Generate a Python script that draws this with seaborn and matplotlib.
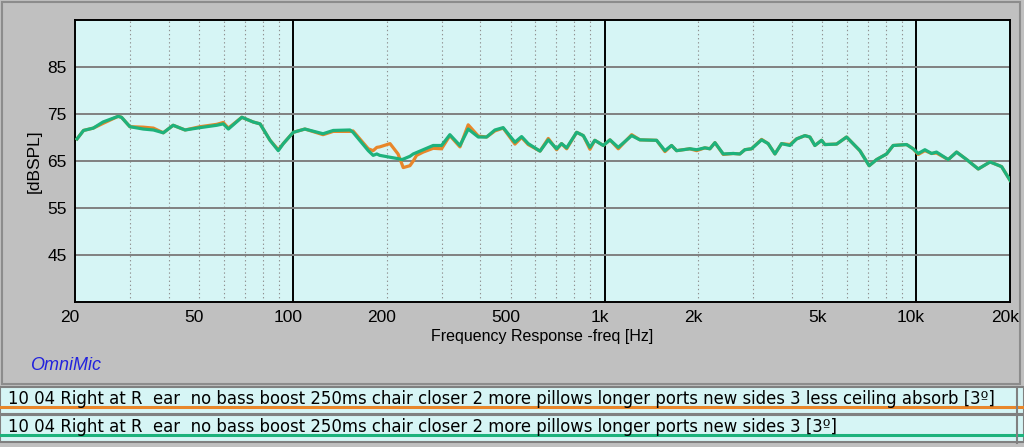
import matplotlib
matplotlib.use("Agg")
import matplotlib.pyplot as plt
from matplotlib.patches import Rectangle
from matplotlib.transforms import ScaledTranslation
import numpy as np
import pandas as pd
import seaborn as sns

# frecuencias (Hz)
freq_hz = [20.3, 21.3, 22.9, 24.6, 27.5, 28.2, 30.0, 33.1, 35.7, 38.4,
           41.3, 45.1, 50.4, 57.0, 59.8, 62.1, 68.6, 74.6, 78.5, 84.5,
           89.8, 93.2, 100.3, 109.3, 125, 134.8, 152.5, 156, 174.6, 181,
           186, 190, 205, 217.5, 223.4, 226, 237.5, 243.4, 249.5, 262,
           282, 300, 319, 343.7, 365.3, 393.6, 418.5, 445, 473, 516,
           542, 569, 621, 660, 702, 728, 756, 814, 855, 898,
           931, 991, 1041, 1107, 1222, 1299, 1469, 1563, 1641, 1703,
           1879, 1975, 2099, 2178, 2261, 2404, 2588, 2718, 2820, 2962,
           3191, 3350, 3522, 3699, 3935, 4133, 4395, 4560, 4731, 4972,
           5094, 5555, 5980, 6598, 7066, 7463, 8037, 8437, 9315, 9781,
           10150, 10664, 11203, 11620, 12670, 13480, 14520, 15820, 17260, 18800,
           20000]

# traza verde: "... new sides 3 [3º]"
spl_verde = [69.7, 71.5, 72.0, 73.3, 74.5, 74.3, 72.3, 71.8, 71.6, 71.0,
             72.6, 71.6, 72.1, 72.6, 72.9, 71.8, 74.3, 73.3, 72.9, 69.4,
             67.2, 68.7, 71.1, 71.8, 70.8, 71.5, 71.6, 71.1, 67.2, 66.2,
             66.5, 66.2, 65.8, 65.5, 65.3, 65.4, 66.0, 66.5, 66.8, 67.4,
             68.3, 68.3, 70.6, 68.3, 71.8, 70.1, 70.1, 71.6, 72.1, 69.0,
             70.2, 68.7, 67.1, 69.5, 67.6, 68.7, 67.8, 71.1, 70.4, 67.9,
             69.4, 68.3, 69.5, 67.9, 70.4, 69.5, 69.4, 67.2, 68.3, 67.2,
             67.6, 67.4, 67.8, 67.6, 68.9, 66.5, 66.6, 66.5, 67.4, 67.6,
             69.5, 68.7, 66.5, 68.7, 68.3, 69.7, 70.4, 70.1, 68.3, 69.4,
             68.5, 68.6, 70.1, 67.2, 64.0, 65.3, 66.5, 68.3, 68.5, 67.6,
             66.6, 67.4, 66.6, 66.9, 65.3, 66.9, 65.3, 63.3, 64.8, 63.8,
             60.9]

# traza naranja: "... 3 less ceiling absorb [3º]"
spl_naranja = [69.7, 71.5, 72.0, 73.0, 74.5, 74.3, 72.3, 72.2, 72.0, 71.0,
               72.6, 71.6, 72.3, 72.8, 73.2, 72.0, 74.3, 73.3, 72.9, 69.4,
               67.4, 68.7, 71.1, 71.8, 70.6, 71.3, 71.3, 71.4, 67.6, 67.2,
               67.9, 68.0, 68.7, 66.5, 64.5, 63.6, 64.0, 65.0, 66.2, 66.9,
               67.7, 67.6, 70.4, 68.0, 72.7, 70.3, 70.1, 71.4, 72.0, 68.6,
               70.0, 68.5, 67.1, 69.8, 67.4, 68.7, 67.6, 71.1, 70.4, 67.5,
               69.4, 68.3, 69.5, 67.6, 70.6, 69.5, 69.4, 67.0, 68.3, 67.2,
               67.6, 67.2, 67.8, 67.6, 68.9, 66.4, 66.6, 66.5, 67.4, 67.6,
               69.6, 68.7, 66.5, 68.7, 68.5, 69.7, 70.4, 70.1, 68.3, 69.4,
               68.5, 68.6, 70.1, 67.2, 64.0, 65.3, 66.5, 68.3, 68.5, 67.6,
               66.4, 67.2, 66.6, 66.7, 65.3, 66.9, 65.3, 63.3, 64.8, 63.8,
               60.9]

etiquetas = ["10 04 Right at R  ear  no bass boost 250ms chair closer 2 more pillows longer ports new sides 3 less ceiling absorb [3º]",
             "10 04 Right at R  ear  no bass boost 250ms chair closer 2 more pillows longer ports new sides 3 [3º]"]
colores = ["#e8862a", "#1db27c"]

xticks_hz = [20, 50, 100, 200, 500, 1000, 2000, 5000, 10000, 20000]
xticks_txt = ["20", "50", "100", "200", "500", "1k", "2k", "5k", "10k", "20k"]
yticks_db = [45, 55, 65, 75, 85]

df = pd.concat([
    pd.DataFrame({"freq": freq_hz, "spl": spl_naranja, "traza": etiquetas[0]}),
    pd.DataFrame({"freq": freq_hz, "spl": spl_verde, "traza": etiquetas[1]}),
])

W, H = 1024, 447
gris = "#c0c0c0"
cian = "#d6f5f5"

fig = plt.figure(figsize=(W / 100, H / 100), dpi=100, facecolor=gris)
plt.rcParams['font.family'] = ['Liberation Sans', 'DejaVu Sans']

# marco del panel
fig.patches.append(Rectangle((2 / W, 1 - 384 / H), 1018 / W, 382 / H, transform=fig.transFigure,
                             facecolor=gris, edgecolor="#8c8c8c", linewidth=1.5, zorder=-5))

ax = fig.add_axes([75 / W, 1 - 302 / H, 935 / W, 282 / H])
ax.set_facecolor(cian)
ax.set_xscale("log")
ax.set_xlim(20, 20000)
ax.set_ylim(35, 95)

# rejilla
for dec in [10, 100, 1000, 10000]:
    for k in range(2, 10):
        f = dec * k
        if 20 < f < 20000:
            ax.axvline(f, color="#909090", linestyle=(0, (1.2, 2.5)), linewidth=0.8, zorder=1)
for f in [100, 1000, 10000]:
    ax.axvline(f, color="black", linewidth=1.4, zorder=1)
for y in yticks_db:
    ax.axhline(y, color="#808080", linewidth=1.4, zorder=1)

sns.lineplot(data=df, x="freq", y="spl", hue="traza", palette=colores, sort=False,
             legend=False, linewidth=2.3, ax=ax, zorder=3)

ax.set_xticks(xticks_hz)
ax.set_xticklabels(xticks_txt)
ax.xaxis.set_minor_locator(matplotlib.ticker.NullLocator())
ax.set_yticks(yticks_db)
ax.tick_params(length=0, labelsize=12.5, pad=6, colors="black")
# las etiquetas del eje x van un poco a la izquierda, como en el original
for lab in ax.get_xticklabels():
    lab.set_transform(lab.get_transform() + ScaledTranslation(-0.05, 0, fig.dpi_scale_trans))
ax.set_xlabel("Frequency Response -freq [Hz]", fontsize=11.5, labelpad=3)
ax.set_ylabel("[dBSPL]", fontsize=12.5, labelpad=4)
for s in ax.spines.values():
    s.set_color("black")
    s.set_linewidth(1.4)

fig.text(30 / W, 1 - 365 / H, "OmniMic", color="#2222dd", style="italic", fontsize=13, va="center")

# leyenda inferior
lg = fig.add_axes([0, 0, 1, 62 / H])
lg.set_xlim(0, W)
lg.set_ylim(447, 385)
lg.axis("off")
for i, (txt, col) in enumerate(zip(etiquetas, colores)):
    y0 = 387 + i * 28
    lg.add_patch(Rectangle((0, y0), 1024, 27, facecolor=cian, edgecolor="#808080", linewidth=1.5))
    lg.plot([0, 1024], [y0 + 20, y0 + 20], color=col, linewidth=2.2)
    lg.text(8, y0 + 17, txt, fontsize=11.9, va="baseline", ha="left", color="black",
            family="DejaVu Sans")
lg.plot([1017, 1017], [387, 443], color="#808080", linewidth=1.5)

fig.savefig("out.png", dpi=100, facecolor=gris)
